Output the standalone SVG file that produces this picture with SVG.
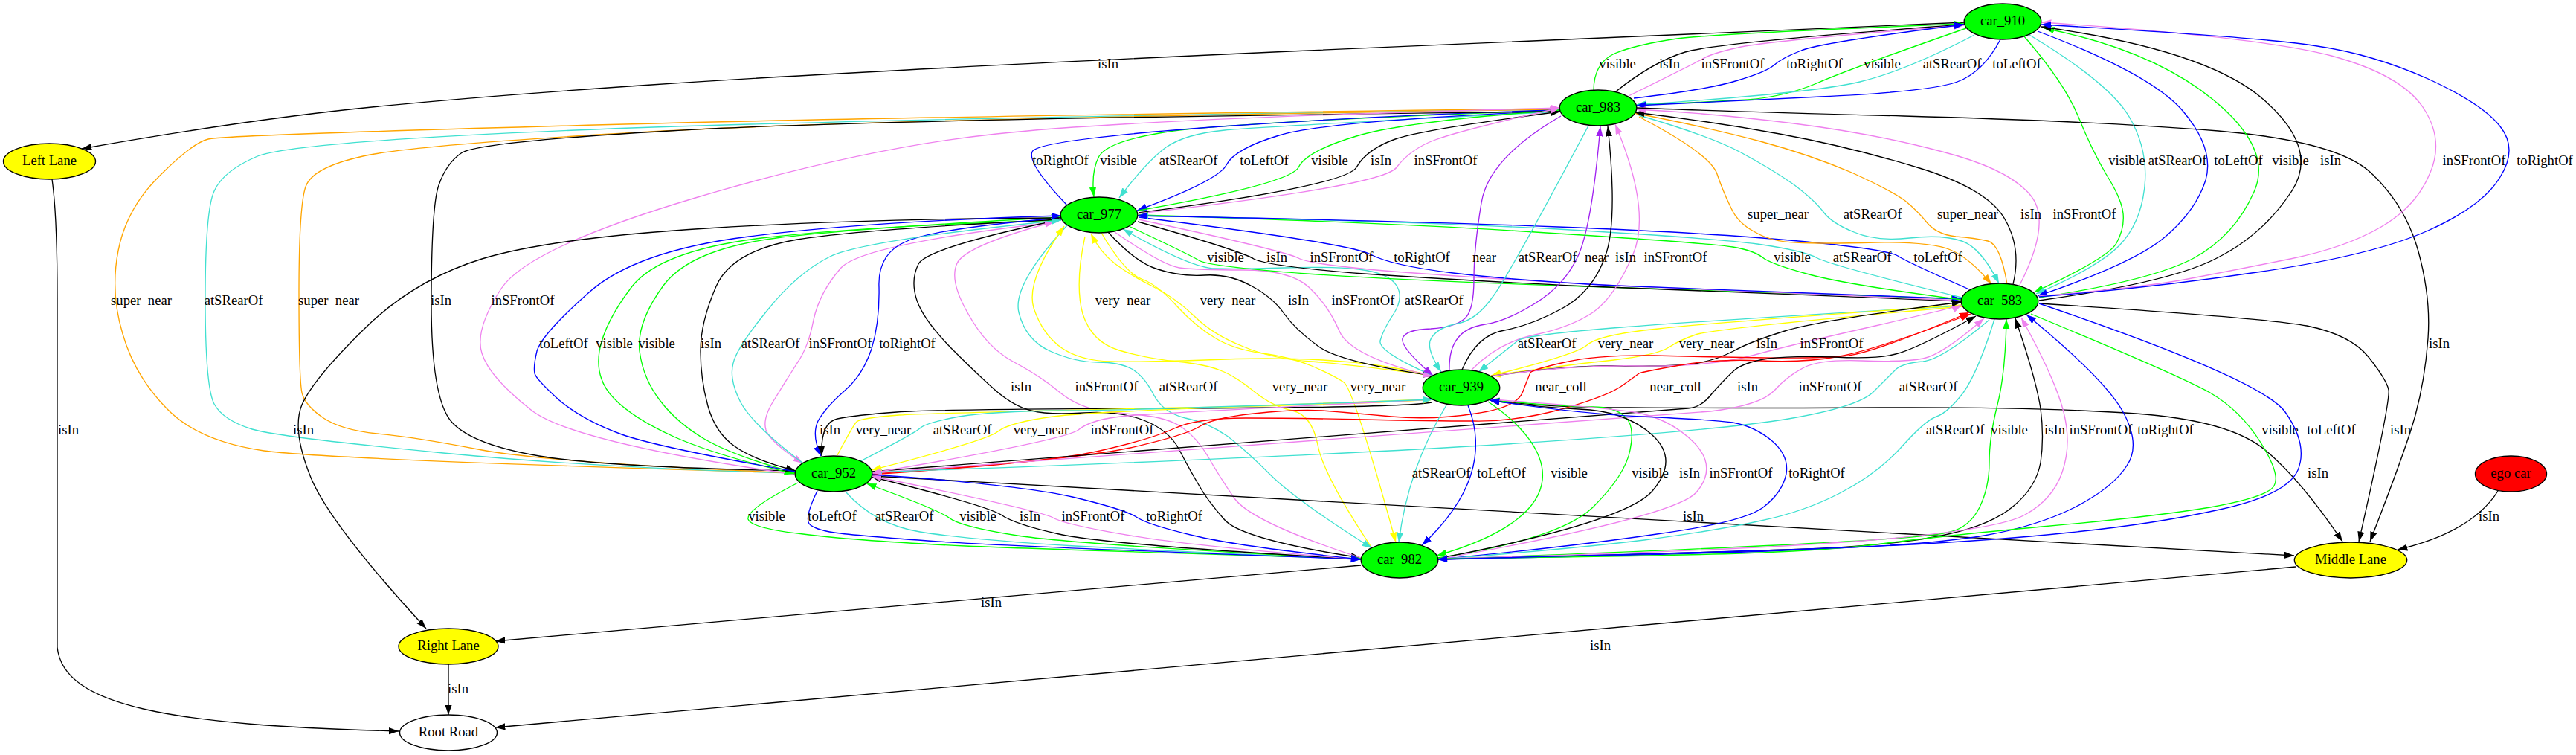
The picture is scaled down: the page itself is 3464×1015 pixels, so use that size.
<svg xmlns="http://www.w3.org/2000/svg" width="3464" height="1015" viewBox="0 0 3464 1015">
<style>
path.e{fill:none;stroke-width:1.33}
.k{stroke:#000;marker-end:url(#mk)}
.b{stroke:#00f;marker-end:url(#mb)}
.g{stroke:#0f0;marker-end:url(#mg)}
.t{stroke:#40e0d0;marker-end:url(#mt)}
.v{stroke:#ee82ee;marker-end:url(#mv)}
.o{stroke:#ffa500;marker-end:url(#mo)}
.y{stroke:#ff0;marker-end:url(#my)}
.r{stroke:#f00;marker-end:url(#mr)}
.p{stroke:#a020f0;marker-end:url(#mp)}
text{font-family:"Liberation Serif","Times New Roman",serif;font-size:18.67px;fill:#000;text-anchor:middle}
ellipse{stroke:#000;stroke-width:1.33}
</style>
<defs>
<marker id="mk" markerUnits="userSpaceOnUse" markerWidth="14" markerHeight="10" refX="13.33" refY="4.67" orient="auto"><path d="M0 0L13.33 4.67L0 9.33z" fill="#000"/></marker>
<marker id="mb" markerUnits="userSpaceOnUse" markerWidth="14" markerHeight="10" refX="13.33" refY="4.67" orient="auto"><path d="M0 0L13.33 4.67L0 9.33z" fill="#00f"/></marker>
<marker id="mg" markerUnits="userSpaceOnUse" markerWidth="14" markerHeight="10" refX="13.33" refY="4.67" orient="auto"><path d="M0 0L13.33 4.67L0 9.33z" fill="#0f0"/></marker>
<marker id="mt" markerUnits="userSpaceOnUse" markerWidth="14" markerHeight="10" refX="13.33" refY="4.67" orient="auto"><path d="M0 0L13.33 4.67L0 9.33z" fill="#40e0d0"/></marker>
<marker id="mv" markerUnits="userSpaceOnUse" markerWidth="14" markerHeight="10" refX="13.33" refY="4.67" orient="auto"><path d="M0 0L13.33 4.67L0 9.33z" fill="#ee82ee"/></marker>
<marker id="mo" markerUnits="userSpaceOnUse" markerWidth="14" markerHeight="10" refX="13.33" refY="4.67" orient="auto"><path d="M0 0L13.33 4.67L0 9.33z" fill="#ffa500"/></marker>
<marker id="my" markerUnits="userSpaceOnUse" markerWidth="14" markerHeight="10" refX="13.33" refY="4.67" orient="auto"><path d="M0 0L13.33 4.67L0 9.33z" fill="#ff0"/></marker>
<marker id="mr" markerUnits="userSpaceOnUse" markerWidth="14" markerHeight="10" refX="13.33" refY="4.67" orient="auto"><path d="M0 0L13.33 4.67L0 9.33z" fill="#f00"/></marker>
<marker id="mp" markerUnits="userSpaceOnUse" markerWidth="14" markerHeight="10" refX="13.33" refY="4.67" orient="auto"><path d="M0 0L13.33 4.67L0 9.33z" fill="#a020f0"/></marker>
</defs>
<rect width="3464" height="1015" fill="#fff"/>
<g id="connectors">
<path class="e k" d="M2643 30Q2310 43 1735 69Q1160 95 876 114Q592 133 444 150Q296 167 110 200"/>
<path class="e g" d="M2143 122Q2143 85 2171 72Q2200 60 2255 52Q2310 45 2641 32"/>
<path class="e k" d="M2173 123Q2223 83 2266 70Q2310 57 2641 33"/>
<path class="e v" d="M2190 129Q2275 87 2288 80Q2300 72 2337 64Q2374 55 2641 34"/>
<path class="e b" d="M2197 132Q2300 120 2337 108Q2374 97 2385 88Q2396 78 2422 68Q2448 57 2641 33"/>
<path class="e g" d="M2644 38Q2486 93 2443 112Q2400 130 2350 134Q2300 137 2200 141"/>
<path class="e t" d="M2655 47Q2563 95 2501 110Q2440 125 2200 141"/>
<path class="e b" d="M2690 53Q2667 97 2632 110Q2597 123 2448 130Q2300 137 2200 142"/>
<path class="e g" d="M2097 148Q1640 165 1565 178Q1490 190 1478 210Q1467 230 1471 265"/>
<path class="e t" d="M2097 150Q1700 170 1647 175Q1594 180 1568 198Q1542 217 1505 266"/>
<path class="e b" d="M2097 149Q1779 163 1720 182Q1660 200 1649 222Q1638 243 1529 283"/>
<path class="e o" d="M1070 636Q444 618 355 606Q266 593 224 549Q181 505 165 449Q148 393 159 337Q170 280 215 236Q259 192 280 187Q300 182 730 170Q1160 157 2098 146"/>
<path class="e t" d="M1070 636Q814 630 596 609Q377 588 339 577Q300 565 288 543Q276 520 276 402Q276 283 288 257Q300 230 344 211Q388 191 774 175Q1160 159 2098 147"/>
<path class="e o" d="M1070 636Q740 622 648 605Q555 587 507 583Q459 578 435 562Q410 545 406 528Q402 510 402 394Q402 277 411 251Q420 225 488 210Q555 195 858 178Q1160 160 2098 147"/>
<path class="e b" d="M1435 276Q1381 220 1388 204Q1394 188 1642 170Q1890 153 2098 148"/>
<path class="e g" d="M1531 283Q1735 247 1746 225Q1757 203 1824 183Q1890 163 2098 148"/>
<path class="e k" d="M1531 286Q1809 250 1824 225Q1838 200 1879 186Q1920 173 2098 150"/>
<path class="e k" d="M2098 150Q1160 160 900 176Q640 191 620 206Q600 220 590 249Q580 277 580 408Q580 538 608 568Q636 598 725 613Q814 628 1068 633"/>
<path class="e v" d="M1531 287Q1860 250 1878 225Q1897 200 1930 188Q1964 175 2098 145"/>
<path class="e v" d="M1070 638Q769 595 714 551Q658 507 648 475Q638 443 674 388Q710 333 935 266Q1160 199 1340 180Q1520 160 2098 145"/>
<path class="e g" d="M1426 296Q1160 304 1024 320Q888 337 850 385Q813 433 806 472Q800 510 826 536Q851 562 906 587Q962 612 1068 637"/>
<path class="e g" d="M1070 636Q984 612 947 590Q910 568 888 539Q865 510 860 472Q856 433 892 384Q928 335 1044 320Q1160 306 1427 292"/>
<path class="e k" d="M1427 295Q1160 308 1072 322Q984 337 963 385Q942 433 942 472Q942 510 952 546Q962 582 988 600Q1013 618 1070 633"/>
<path class="e v" d="M1424 298Q1160 328 1131 360Q1102 393 1094 430Q1087 467 1072 488Q1058 510 1042 536Q1025 562 1030 578Q1036 595 1080 623"/>
<path class="e b" d="M1424 293Q1261 307 1220 324Q1180 340 1182 386Q1183 433 1172 469Q1160 505 1135 526Q1110 548 1100 566Q1091 585 1104 613"/>
<path class="e k" d="M1427 293Q1160 294 950 307Q740 320 648 348Q555 377 488 444Q421 510 406 544Q392 578 418 642Q444 705 573 845"/>
<path class="e k" d="M1427 295Q1246 333 1235 355Q1224 377 1233 404Q1242 430 1279 468Q1316 505 1340 526Q1365 547 1387 552Q1409 558 1457 555Q1505 552 1538 565Q1572 578 1586 605Q1600 632 1612 652Q1623 672 1646 698Q1668 725 1830 750"/>
<path class="e v" d="M1830 750Q1683 702 1660 670Q1638 638 1624 613Q1609 588 1590 575Q1572 562 1535 558Q1498 555 1472 550Q1446 545 1422 525Q1398 505 1362 486Q1327 467 1302 422Q1276 377 1287 354Q1298 330 1418 298"/>
<path class="e t" d="M1080 623Q1013 572 996 541Q980 510 986 488Q991 467 1032 417Q1072 367 1116 345Q1160 323 1427 296"/>
<path class="e b" d="M1070 634Q887 602 836 584Q784 565 752 538Q721 510 719 502Q717 493 722 472Q728 450 791 394Q854 337 1007 318Q1160 298 1427 290"/>
<path class="e y" d="M1845 737Q1779 638 1772 598Q1764 558 1738 552Q1712 547 1686 526Q1660 505 1641 498Q1622 490 1582 486Q1542 482 1505 471Q1468 460 1456 422Q1445 383 1459 318" style="marker-end:none"/>
<path class="e t" d="M1435 303Q1361 383 1370 420Q1379 457 1412 472Q1446 487 1476 487Q1505 487 1522 496Q1538 505 1551 530Q1564 555 1594 562Q1624 568 1650 586Q1675 605 1708 638Q1742 672 1845 737"/>
<path class="e y" d="M1927 505Q1853 488 1779 484Q1705 480 1620 484Q1535 487 1494 486Q1453 485 1428 468Q1402 450 1390 414Q1379 377 1431 304"/>
<path class="e y" d="M1927 505Q1816 490 1764 486Q1712 483 1672 466Q1631 450 1606 425Q1580 400 1550 385Q1520 370 1500 355Q1480 340 1467 314"/>
<path class="e y" d="M1481 313Q1513 367 1535 375Q1557 383 1583 412Q1609 440 1635 455Q1660 470 1698 475Q1735 480 1764 492Q1794 505 1807 514Q1820 522 1877 729"/>
<path class="e k" d="M1490 312Q1527 353 1557 362Q1587 372 1620 370Q1653 368 1682 384Q1712 400 1727 422Q1742 443 1772 465Q1801 487 1927 505"/>
<path class="e v" d="M1499 312Q1564 357 1586 360Q1609 363 1672 363Q1735 363 1760 386Q1786 410 1801 445Q1816 480 1927 506"/>
<path class="e t" d="M1927 505Q1853 473 1856 458Q1860 443 1874 422Q1888 400 1878 384Q1868 367 1827 362Q1786 358 1727 360Q1668 362 1634 361Q1601 360 1510 308"/>
<path class="e g" d="M1520 305Q1601 343 1612 350Q1624 358 1757 368Q1890 377 2100 384Q2310 390 2637 402"/>
<path class="e k" d="M1530 298Q1668 337 1686 348Q1705 358 1834 368Q1964 377 2137 385Q2310 393 2638 405"/>
<path class="e v" d="M1531 295Q1727 337 1746 347Q1764 357 1901 367Q2038 377 2174 384Q2310 390 2638 404"/>
<path class="e b" d="M1531 292Q1815 327 1843 342Q1871 357 1954 367Q2038 377 2174 384Q2310 390 2638 402"/>
<path class="e g" d="M2638 403Q2485 383 2433 369Q2381 355 2370 346Q2359 337 2330 332Q2300 327 2095 314Q1890 300 1531 289"/>
<path class="e t" d="M2638 400Q2463 357 2444 347Q2426 337 2363 328Q2300 320 2095 308Q1890 297 1531 290"/>
<path class="e b" d="M2648 389Q2566 353 2552 344Q2537 335 2418 324Q2300 313 2095 305Q1890 297 1529 290"/>
<path class="e p" d="M2099 156Q2001 213 1992 273Q1982 333 1982 375Q1982 417 1970 428Q1957 440 1924 442Q1890 443 1886 455Q1883 467 1927 505"/>
<path class="e p" d="M1949 500Q1948 470 1960 455Q1971 440 1997 436Q2023 433 2064 408Q2105 383 2123 342Q2141 300 2152 170"/>
<path class="e t" d="M2136 169Q2031 367 2008 398Q1986 430 1960 435Q1934 440 1925 454Q1916 467 1938 500"/>
<path class="e k" d="M1966 497Q1986 450 2023 444Q2060 437 2100 415Q2141 393 2158 346Q2176 300 2162 170"/>
<path class="e v" d="M1979 497Q2016 460 2064 450Q2112 440 2142 420Q2171 400 2196 342Q2221 283 2172 167"/>
<path class="e o" d="M2699 382Q2690 328 2673 324Q2656 320 2630 318Q2604 315 2591 299Q2578 283 2562 270Q2545 257 2490 232Q2434 208 2367 190Q2300 172 2198 152"/>
<path class="e o" d="M2204 157Q2300 207 2309 234Q2318 260 2328 280Q2337 300 2360 312Q2382 325 2415 326Q2448 328 2522 326Q2597 325 2623 336Q2649 347 2678 382"/>
<path class="e t" d="M2204 155Q2300 183 2341 205Q2382 227 2412 248Q2441 270 2452 285Q2463 300 2493 312Q2523 325 2568 320Q2612 315 2638 324Q2664 333 2688 381"/>
<path class="e k" d="M2707 382Q2719 333 2695 293Q2671 253 2578 225Q2486 197 2393 180Q2300 163 2198 151"/>
<path class="e v" d="M2716 383Q2760 297 2730 262Q2701 227 2612 204Q2523 180 2412 166Q2300 152 2200 147"/>
<path class="e k" d="M2200 145Q2300 149 2560 156Q2820 163 2983 176Q3146 190 3190 234Q3235 277 3252 338Q3269 400 3265 455Q3261 510 3248 558Q3235 605 3187 728"/>
<path class="e g" d="M2722 49Q2775 110 2794 155Q2812 200 2832 234Q2853 267 2855 287Q2857 307 2846 327Q2835 347 2735 393"/>
<path class="e t" d="M2729 47Q2834 110 2862 155Q2889 200 2884 250Q2879 300 2850 330Q2820 360 2738 395"/>
<path class="e b" d="M2740 42Q2894 100 2936 150Q2978 200 2966 242Q2953 283 2912 318Q2872 353 2740 398"/>
<path class="e g" d="M2742 400Q2894 377 2950 347Q3005 317 3031 258Q3057 200 2976 134Q2894 67 2749 38"/>
<path class="e k" d="M2742 404Q2916 380 2979 348Q3042 317 3081 258Q3120 200 3044 134Q2968 67 2745 36"/>
<path class="e v" d="M2742 398Q2879 387 2942 375Q3005 363 3080 348Q3154 333 3202 305Q3250 277 3268 232Q3287 187 3258 144Q3228 100 3135 75Q3042 50 2745 30"/>
<path class="e b" d="M2742 399Q2894 387 3042 365Q3191 343 3265 310Q3339 277 3362 238Q3386 200 3362 170Q3339 140 3265 106Q3191 73 3116 62Q3042 50 2745 33"/>
<path class="e k" d="M2742 408Q3042 427 3102 438Q3161 450 3185 480Q3209 510 3212 524Q3215 538 3172 728"/>
<path class="e k" d="M1173 640L3085 747"/>
<path class="e k" d="M2008 538Q2075 548 2192 548Q2310 549 2528 548Q2745 547 2872 556Q2998 565 3046 605Q3094 645 3150 728"/>
<path class="e k" d="M3359 660Q3325 715 3224 739"/>
<path class="e k" d="M3087 762L666 978"/>
<path class="e k" d="M1830 760L666 862"/>
<path class="e k" d="M603 893L603 961"/>
<path class="e k" d="M70 241Q77 290 77 400L77 870C85 950 230 975 536 983"/>
<path class="e t" d="M2638 411Q2310 430 2181 440Q2052 450 2041 458Q2030 467 1988 500"/>
<path class="e y" d="M2638 410Q2310 433 2230 442Q2149 450 2134 464Q2119 477 2005 505"/>
<path class="e y" d="M2638 412Q2300 442 2280 450Q2259 457 2244 467Q2229 477 2170 484Q2112 490 2005 505"/>
<path class="e k" d="M2003 506Q2112 490 2186 492Q2259 493 2284 488Q2310 483 2331 472Q2352 460 2400 445Q2448 430 2638 406"/>
<path class="e v" d="M2003 506Q2112 490 2206 492Q2300 493 2356 478Q2411 463 2522 438Q2634 412 2638 410"/>
<path class="e r" d="M1172 637Q1446 618 1520 602Q1594 585 1612 574Q1630 562 1686 556Q1741 550 1778 552Q1816 555 1871 560Q1926 565 1984 556Q2041 548 2048 526Q2056 505 2058 501Q2060 497 2104 487Q2149 477 2224 478Q2300 480 2374 481Q2448 482 2486 478Q2523 473 2648 420"/>
<path class="e r" d="M1172 638Q1409 622 1479 606Q1549 590 1579 576Q1609 562 1675 562Q1741 562 1834 564Q1926 566 1982 566Q2038 567 2100 550Q2163 532 2182 518Q2200 505 2204 502Q2208 500 2259 491Q2310 482 2368 485Q2426 488 2474 479Q2523 470 2650 422"/>
<path class="e k" d="M1172 634L2270 549Q2288 548 2303 528Q2319 510 2332 498Q2345 487 2378 482Q2411 478 2467 480Q2523 483 2549 476Q2575 470 2657 425"/>
<path class="e v" d="M1172 636L2300 553Q2367 545 2386 525Q2404 505 2426 494Q2448 483 2504 485Q2560 487 2586 482Q2612 477 2668 428"/>
<path class="e t" d="M2675 430Q2612 483 2586 486Q2560 488 2550 496Q2541 505 2520 526Q2500 547 2405 563Q2310 579 2026 597Q1741 615 1173 635"/>
<path class="e k" d="M1925 541Q1890 548 1576 549Q1261 550 1206 554Q1150 558 1126 563Q1103 568 1105 613"/>
<path class="e y" d="M1126 612Q1147 572 1152 567Q1157 562 1209 558Q1261 555 1586 548Q1800 545 1927 537"/>
<path class="e y" d="M1927 537Q1476 552 1416 560Q1357 568 1342 580Q1328 592 1172 632"/>
<path class="e v" d="M1927 537Q1564 555 1516 559Q1468 563 1450 578Q1431 592 1172 636"/>
<path class="e t" d="M1157 620Q1231 582 1238 575Q1246 568 1290 560Q1335 553 1428 552Q1520 552 1927 537"/>
<path class="e g" d="M1073 649Q1003 685 1006 698Q1010 710 1080 718Q1150 727 1298 734Q1446 740 1830 751"/>
<path class="e t" d="M1137 661Q1176 705 1237 715Q1298 725 1446 734Q1594 742 1830 752"/>
<path class="e g" d="M1830 752Q1446 732 1368 720Q1291 708 1276 696Q1261 685 1165 650"/>
<path class="e k" d="M1830 752Q1483 732 1424 718Q1365 705 1346 692Q1328 680 1172 641"/>
<path class="e v" d="M1830 752Q1609 735 1520 720Q1431 705 1416 696Q1402 687 1172 640"/>
<path class="e b" d="M1099 660Q1082 695 1088 704Q1095 712 1122 716Q1150 720 1261 728Q1372 735 1830 752"/>
<path class="e b" d="M1173 638Q1372 652 1442 668Q1513 685 1528 695Q1542 705 1605 720Q1668 735 1830 752"/>
<path class="e t" d="M1946 543Q1893 630 1881 729"/>
<path class="e b" d="M1974 545Q2012 640 1912 733"/>
<path class="e g" d="M2001 540C2090 600 2130 690 1932 747"/>
<path class="e g" d="M1933 750Q2097 725 2142 682Q2186 638 2192 605Q2199 572 2185 560Q2171 547 2142 547Q2112 547 2003 538"/>
<path class="e k" d="M1933 751Q2186 702 2222 660Q2258 618 2222 585Q2186 552 2123 550Q2060 547 2003 538"/>
<path class="e v" d="M2005 537Q2149 547 2197 554Q2245 562 2278 595Q2310 628 2281 662Q2252 695 1933 752"/>
<path class="e b" d="M1933 752Q2112 735 2228 718Q2345 702 2371 682Q2397 662 2402 637Q2406 612 2382 592Q2359 573 2330 568Q2300 564 2206 560Q2112 555 2003 538"/>
<path class="e t" d="M2682 429Q2660 500 2640 528Q2619 555 2604 560Q2589 565 2556 602Q2523 638 2474 663Q2426 688 2368 700Q2310 713 2211 726Q2112 738 1933 752"/>
<path class="e g" d="M1933 752Q2300 738 2448 730Q2597 722 2623 715Q2649 708 2662 682Q2675 655 2675 622Q2675 588 2686 544Q2697 500 2698 429"/>
<path class="e k" d="M1933 752Q2300 743 2430 738Q2560 732 2620 718Q2679 705 2708 680Q2738 655 2744 622Q2749 588 2744 549Q2738 510 2710 428"/>
<path class="e v" d="M1933 751Q2300 742 2493 728Q2686 713 2723 692Q2760 672 2773 635Q2786 598 2775 554Q2764 510 2718 427"/>
<path class="e b" d="M1933 752Q2300 745 2448 738Q2597 732 2668 720Q2738 708 2790 682Q2842 655 2860 626Q2879 598 2855 554Q2831 510 2725 423"/>
<path class="e g" d="M2731 422Q2931 505 2972 528Q3013 552 3040 595Q3067 638 3058 653Q3050 668 2972 682Q2894 695 2746 708Q2597 722 2538 730Q2478 738 2389 742Q2300 747 1933 751"/>
<path class="e b" d="M2742 408Q3042 510 3073 554Q3104 598 3090 632Q3076 665 2985 685Q2894 705 2782 716Q2671 728 2486 736Q2300 743 1933 752"/>
</g>
<g id="edge-labels">
<text x="1490" y="92">isIn</text><text x="2175" y="92">visible</text><text x="2245" y="92">isIn</text><text x="2330" y="92">inSFrontOf</text><text x="2440" y="92">toRightOf</text><text x="2531" y="92">visible</text><text x="2625" y="92">atSRearOf</text><text x="2712" y="92">toLeftOf</text>
<text x="1426" y="222">toRightOf</text><text x="1504" y="222">visible</text><text x="1598" y="222">atSRearOf</text><text x="1700" y="222">toLeftOf</text><text x="1788" y="222">visible</text><text x="1857" y="222">isIn</text><text x="1944" y="222">inSFrontOf</text><text x="2860" y="222">visible</text><text x="2928" y="222">atSRearOf</text><text x="3010" y="222">toLeftOf</text><text x="3080" y="222">visible</text><text x="3134" y="222">isIn</text><text x="3327" y="222">inSFrontOf</text><text x="3422" y="222">toRightOf</text>
<text x="2391" y="294">super_near</text><text x="2518" y="294">atSRearOf</text><text x="2646" y="294">super_near</text><text x="2731" y="294">isIn</text><text x="2803" y="294">inSFrontOf</text>
<text x="1648" y="352">visible</text><text x="1717" y="352">isIn</text><text x="1804" y="352">inSFrontOf</text><text x="1912" y="352">toRightOf</text><text x="1996" y="352">near</text><text x="2081" y="352">atSRearOf</text><text x="2147" y="352">near</text><text x="2186" y="352">isIn</text><text x="2253" y="352">inSFrontOf</text><text x="2410" y="352">visible</text><text x="2504" y="352">atSRearOf</text><text x="2606" y="352">toLeftOf</text>
<text x="190" y="410">super_near</text><text x="314" y="410">atSRearOf</text><text x="442" y="410">super_near</text><text x="593" y="410">isIn</text><text x="703" y="410">inSFrontOf</text><text x="1510" y="410">very_near</text><text x="1651" y="410">very_near</text><text x="1746" y="410">isIn</text><text x="1833" y="410">inSFrontOf</text><text x="1928" y="410">atSRearOf</text>
<text x="758" y="468">toLeftOf</text><text x="826" y="468">visible</text><text x="883" y="468">visible</text><text x="956" y="468">isIn</text><text x="1036" y="468">atSRearOf</text><text x="1130" y="468">inSFrontOf</text><text x="1220" y="468">toRightOf</text><text x="2080" y="468">atSRearOf</text><text x="2186" y="468">very_near</text><text x="2295" y="468">very_near</text><text x="2376" y="468">isIn</text><text x="2463" y="468">inSFrontOf</text><text x="3280" y="468">isIn</text>
<text x="1373" y="526">isIn</text><text x="1488" y="526">inSFrontOf</text><text x="1598" y="526">atSRearOf</text><text x="1748" y="526">very_near</text><text x="1853" y="526">very_near</text><text x="2099" y="526">near_coll</text><text x="2253" y="526">near_coll</text><text x="2350" y="526">isIn</text><text x="2461" y="526">inSFrontOf</text><text x="2593" y="526">atSRearOf</text>
<text x="92" y="584">isIn</text><text x="408" y="584">isIn</text><text x="1116" y="584">isIn</text><text x="1188" y="584">very_near</text><text x="1294" y="584">atSRearOf</text><text x="1400" y="584">very_near</text><text x="1509" y="584">inSFrontOf</text><text x="2629" y="584">atSRearOf</text><text x="2702" y="584">visible</text><text x="2763" y="584">isIn</text><text x="2825" y="584">inSFrontOf</text><text x="2912" y="584">toRightOf</text><text x="3066" y="584">visible</text><text x="3135" y="584">toLeftOf</text><text x="3228" y="584">isIn</text>
<text x="1938" y="642">atSRearOf</text><text x="2019" y="642">toLeftOf</text><text x="2110" y="642">visible</text><text x="2219" y="642">visible</text><text x="2272" y="642">isIn</text><text x="2341" y="642">inSFrontOf</text><text x="2443" y="642">toRightOf</text><text x="3117" y="642">isIn</text>
<text x="1031" y="700">visible</text><text x="1119" y="700">toLeftOf</text><text x="1216" y="700">atSRearOf</text><text x="1315" y="700">visible</text><text x="1385" y="700">isIn</text><text x="1470" y="700">inSFrontOf</text><text x="1579" y="700">toRightOf</text><text x="2277" y="700">isIn</text><text x="3347" y="700">isIn</text>
<text x="1333" y="816">isIn</text><text x="2152" y="874">isIn</text><text x="616" y="932">isIn</text>
</g>
<g id="car_910"><ellipse cx="2693" cy="29" rx="51.8" ry="24" fill="#0f0"/><text x="2693" y="34">car_910</text></g>
<g id="car_983"><ellipse cx="2149" cy="145" rx="51.8" ry="24" fill="#0f0"/><text x="2149" y="150">car_983</text></g>
<g id="car_977"><ellipse cx="1478" cy="289" rx="51.8" ry="24" fill="#0f0"/><text x="1478" y="294">car_977</text></g>
<g id="car_583"><ellipse cx="2689" cy="405" rx="51.8" ry="24" fill="#0f0"/><text x="2689" y="410">car_583</text></g>
<g id="car_939"><ellipse cx="1965" cy="521" rx="51.8" ry="24" fill="#0f0"/><text x="1965" y="526">car_939</text></g>
<g id="car_952"><ellipse cx="1121" cy="637" rx="51.8" ry="24" fill="#0f0"/><text x="1121" y="642">car_952</text></g>
<g id="car_982"><ellipse cx="1882" cy="753" rx="51.8" ry="24" fill="#0f0"/><text x="1882" y="758">car_982</text></g>
<g id="left_lane"><ellipse cx="66.5" cy="217" rx="62" ry="24" fill="#ff0"/><text x="66.5" y="222">Left Lane</text></g>
<g id="middle_lane"><ellipse cx="3161" cy="753" rx="75.7" ry="24" fill="#ff0"/><text x="3161" y="758">Middle Lane</text></g>
<g id="right_lane"><ellipse cx="603" cy="869" rx="67" ry="24" fill="#ff0"/><text x="603" y="874">Right Lane</text></g>
<g id="root_road"><ellipse cx="603" cy="985" rx="65.5" ry="24" fill="#fff"/><text x="603" y="990">Root Road</text></g>
<g id="ego_car"><ellipse cx="3376.5" cy="637" rx="48" ry="24" fill="#f00"/><text x="3376.5" y="642">ego car</text></g>
</svg>
